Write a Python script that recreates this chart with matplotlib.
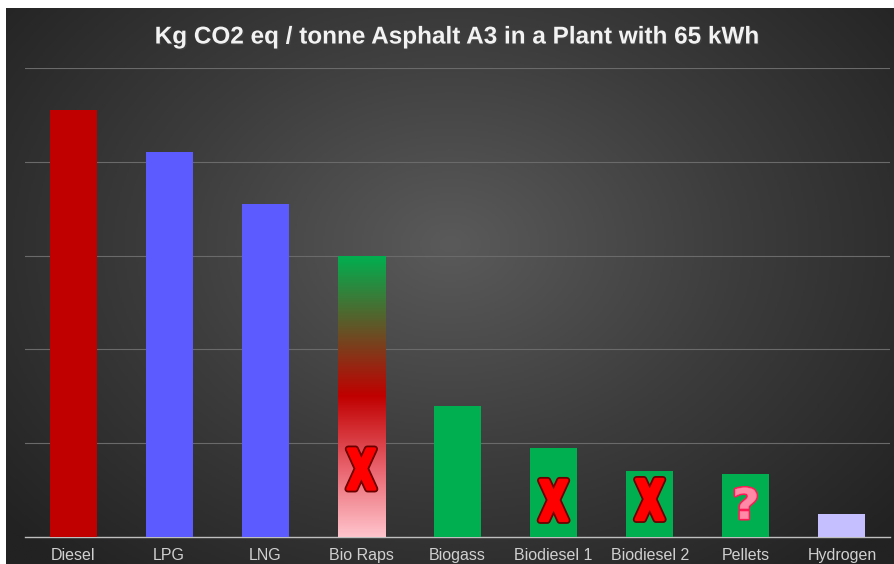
import numpy as np
import matplotlib.pyplot as plt
import matplotlib.patheffects as pe
import matplotlib.transforms as mtransforms
from matplotlib.colors import LinearSegmentedColormap
from matplotlib.textpath import TextPath
from matplotlib.patches import PathPatch
from matplotlib.font_manager import FontProperties

# data (arbitrary units: 20 per gridline)
fuels = ['Diesel', 'LPG', 'LNG', 'Bio Raps', 'Biogass', 'Biodiesel 1',
         'Biodiesel 2', 'Pellets', 'Hydrogen']
values = [91, 82, 71, 60, 28, 19, 14, 13.5, 5]
colors = ['#c00000', '#5b5bff', '#5b5bff', '#00b050', '#00b050', '#00b050',
          '#00b050', '#00b050', '#c5bfff']
# symbols drawn on top of bars
marks = ['', '', '', 'X', '', 'X', 'X', '?', '']
mark_y = [0, 0, 0, 14.5, 0, 7.8, 8.0, 7.2, 0]

fig = plt.figure(figsize=(8.95, 5.64), dpi=100, facecolor='white')

# dark radial gradient background
bg = fig.add_axes([6 / 895, 0, 1 - 6 / 895, 1 - 8 / 564])
bg.set_axis_off()
yy, xx = np.mgrid[-1:1:300j, -1:1:500j]
r = np.sqrt((xx * 0.95) ** 2 + ((yy + 0.15) * 0.8) ** 2)
cmap_bg = LinearSegmentedColormap.from_list('bg', ['#5a5a5a', '#3c3c3c', '#222222'])
bg.imshow(r, cmap=cmap_bg, aspect='auto', extent=[0, 1, 0, 1], vmin=0, vmax=1.25)

ax = fig.add_axes([25 / 895, 27 / 564, 865 / 895, (537 - 68) / 564])
ax.patch.set_alpha(0)
x = np.arange(len(fuels))
bars = ax.bar(x, values, width=0.49, color=colors, zorder=3)

# Bio Raps: green -> red -> pink gradient
br = bars[3]
br.set_facecolor('none')
grad_cmap = LinearSegmentedColormap.from_list(
    'raps', [(0, '#ffc4cc'), (0.25, '#e8606a'), (0.5, '#c00000'), (1, '#00b050')])
g = np.linspace(0, 1, 256).reshape(-1, 1)
im = ax.imshow(g, cmap=grad_cmap, origin='lower', aspect='auto', zorder=3,
               extent=[br.get_x(), br.get_x() + br.get_width(), 0, br.get_height()])
im.set_clip_path(br)

# tall red X and pink ? symbols, sized in pixels
fp = FontProperties(family='DejaVu Sans', weight='bold')


def symbol(xi, yv, ch, w, h, face, edge, lw_out, lw_in):
    tp = TextPath((0, 0), ch, size=1, prop=fp)
    ext = tp.get_extents()
    tr = (mtransforms.Affine2D()
          .translate(-(ext.x0 + ext.x1) / 2, -(ext.y0 + ext.y1) / 2)
          .scale(w / ext.width, h / ext.height)
          + mtransforms.ScaledTranslation(xi, yv, ax.transData))
    # thick dark outline, then a fattened fill on top
    ax.add_patch(PathPatch(tp, transform=tr, facecolor=edge, edgecolor=edge,
                           linewidth=lw_out, zorder=5, clip_on=False, joinstyle='round'))
    ax.add_patch(PathPatch(tp, transform=tr, facecolor=face, edgecolor=face,
                           linewidth=lw_in, zorder=6, clip_on=False, joinstyle='round'))


for xi, m, my in zip(x, marks, mark_y):
    if m == 'X':
        symbol(xi, my, 'X', 27, 40, '#ff0000', '#6b0000', 5, 2.4)
    elif m == '?':
        symbol(xi, my, '?', 21, 31, '#ff8aa8', '#ff1a55', 2.6, 0.3)

ax.set_xlim(-0.5, len(fuels) - 0.5)
ax.set_ylim(0, 100)
ax.set_yticks([20, 40, 60, 80, 100])
ax.yaxis.grid(True, color='#6a6a6a', linewidth=0.8, zorder=0)
ax.tick_params(axis='y', left=False, labelleft=False)
ax.tick_params(axis='x', length=0, pad=8, labelsize=11.5, labelcolor='#d0d0d0')
ax.set_xticks(x)
ax.set_xticklabels(fuels, family='Liberation Sans')
for s in ['top', 'right', 'left']:
    ax.spines[s].set_visible(False)
ax.spines['bottom'].set_color('#bfbfbf')
ax.spines['bottom'].set_linewidth(1)

fig.text(457 / 895, 1 - 37 / 564, 'Kg CO2 eq / tonne Asphalt A3 in a Plant with 65 kWh',
         ha='center', va='center', fontsize=17.5, fontweight='bold', color='#f2f2f2',
         family='Liberation Sans',
         path_effects=[pe.withSimplePatchShadow(offset=(1, -1), alpha=0.5)])

fig.savefig('out.png', dpi=100)
